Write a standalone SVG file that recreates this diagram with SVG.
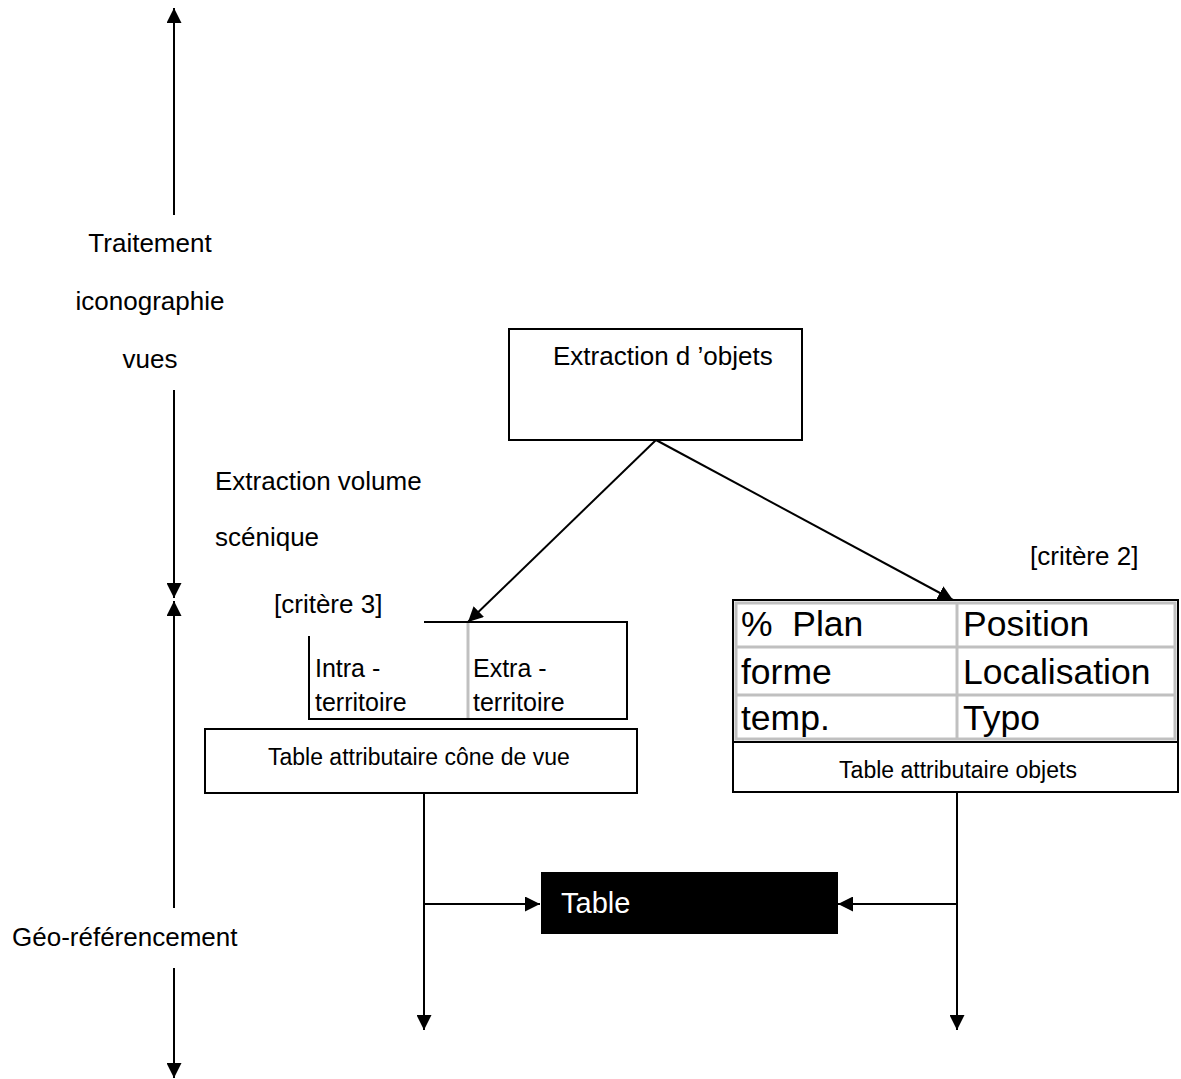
<svg xmlns="http://www.w3.org/2000/svg" width="1181" height="1079" viewBox="0 0 1181 1079">
<style>
text{font-family:"Liberation Sans",Arial,sans-serif;fill:#000}
.l{font-size:26px}
.c{font-size:35.5px}
.s{font-size:23px}
.box{fill:#fff;stroke:#000;stroke-width:2}
.ln{stroke:#000;stroke-width:2;fill:none}
.g{stroke:#c0c0c0;stroke-width:3;fill:none}
</style>
<defs>
<marker id="ah" viewBox="0 0 15 15" refX="15" refY="7.5" markerWidth="15" markerHeight="15" markerUnits="userSpaceOnUse" orient="auto">
<path d="M0,0 L15,7.5 L0,15 Z" fill="#000"/>
</marker>
</defs>
<rect width="1181" height="1079" fill="#fff"/>
<g id="connectors">
<line class="ln" x1="174" y1="215" x2="174" y2="8" marker-end="url(#ah)"/>
<line class="ln" x1="174" y1="390" x2="174" y2="598" marker-end="url(#ah)"/>
<line class="ln" x1="174" y1="908" x2="174" y2="601" marker-end="url(#ah)"/>
<line class="ln" x1="174" y1="968" x2="174" y2="1078" marker-end="url(#ah)"/>
<line class="ln" x1="656" y1="440" x2="468" y2="622" marker-end="url(#ah)"/>
<line class="ln" x1="656" y1="440" x2="953" y2="600" marker-end="url(#ah)"/>
<line class="ln" x1="424" y1="793" x2="424" y2="1030" marker-end="url(#ah)"/>
<line class="ln" x1="957" y1="793" x2="957" y2="1030" marker-end="url(#ah)"/>
<line class="ln" x1="424" y1="904" x2="540" y2="904" marker-end="url(#ah)"/>
<line class="ln" x1="957" y1="904" x2="838" y2="904" marker-end="url(#ah)"/>
</g>
<g id="axis-labels">
<text class="l" x="150" y="252" text-anchor="middle">Traitement</text>
<text class="l" x="150" y="310" text-anchor="middle">iconographie</text>
<text class="l" x="150" y="368" text-anchor="middle">vues</text>
<text class="l" x="12" y="946">Géo-référencement</text>
</g>
<g id="extraction-volume">
<text class="l" x="215" y="490">Extraction volume</text>
<text class="l" x="215" y="546">scénique</text>
</g>
<g id="extraction-objets">
<rect class="box" x="509" y="329" width="293" height="111"/>
<text class="l" x="553" y="365">Extraction d ’objets</text>
</g>
<g id="critere3">
<text class="l" x="274" y="613">[critère 3]</text>
</g>
<g id="critere2">
<text class="l" x="1030" y="565">[critère 2]</text>
</g>
<g id="table-cone">
<line class="g" x1="468" y1="623" x2="468" y2="718"/>
<polyline class="ln" points="424,622 627,622 627,719 309,719 309,636"/>
<text class="l" x="315" y="677" style="font-size:25px">Intra -</text>
<text class="l" x="315" y="711" style="font-size:25px">territoire</text>
<text class="l" x="473" y="677" style="font-size:25px">Extra -</text>
<text class="l" x="473" y="711" style="font-size:25px">territoire</text>
<rect class="box" x="205" y="729" width="432" height="64"/>
<text class="s" x="268" y="765">Table attributaire cône de vue</text>
</g>
<g id="table-objets">
<rect class="box" x="733" y="600" width="445" height="142"/>
<rect class="g" x="736" y="603" width="439" height="136"/>
<line class="g" x1="957" y1="603" x2="957" y2="739"/>
<line class="g" x1="736" y1="647" x2="1175" y2="647"/>
<line class="g" x1="736" y1="695" x2="1175" y2="695"/>
<text class="c" x="741" y="636" xml:space="preserve">%  Plan</text>
<text class="c" x="963" y="636">Position</text>
<text class="c" x="741" y="684">forme</text>
<text class="c" x="963" y="684">Localisation</text>
<text class="c" x="741" y="730">temp.</text>
<text class="c" x="963" y="730">Typo</text>
<rect class="box" x="733" y="742" width="445" height="50"/>
<text class="s" x="958" y="778" text-anchor="middle">Table attributaire objets</text>
</g>
<g id="table-node">
<rect x="541" y="872" width="297" height="62" fill="#000"/>
<text x="561" y="913" style="font-size:29px;fill:#fff">Table</text>
</g>
</svg>
